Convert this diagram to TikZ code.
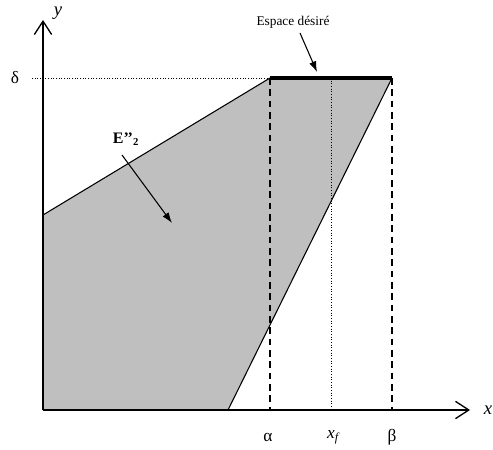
\documentclass[tikz,border=0pt]{standalone}
\usepackage{fontspec}
\setmainfont{Liberation Serif}
\usetikzlibrary{arrows.meta,positioning}

\tikzset{
  axis/.style={line width=1pt,-{Straight Barb[length=10pt,width=13pt,line width=1pt]}},
  pointer/.style={line width=.8pt,-{Latex[length=8pt,width=5.5pt]}},
  guide/.style={line width=.8pt,dash pattern=on 5pt off 3.5pt},
  dotguide/.style={line width=.7pt,dash pattern=on .8pt off 1.2pt}
}

\begin{document}
\begin{tikzpicture}[x=.75pt,y=.75pt]
      \useasboundingbox (-43,-40) rectangle (450,410);

      % region E''_2
      \fill[gray!50] (0,0) -- (0,195) -- (227,332) -- (349,332) -- (185,0) -- cycle;
      \draw[line width=.8pt] (0,195) -- (227,332);
      \draw[line width=.8pt] (349,332) -- (185,0);

      % bounds
      \coordinate (O) at (0,0);
      \coordinate (da) at (227,332);
      \coordinate (db) at (349,332);
      \coordinate (df) at (288,332);
      \draw[dotguide] (-11,332) -- (da);
      \draw[guide] (da) -- (227,0);
      \draw[guide] (db) -- (349,0);
      \draw[dotguide] (df) -- (288,0);
      \draw[line width=3pt] (da) -- (db);

      % axes
      \draw[axis] (O) -- (427,0);
      \draw[axis] (O) -- (0,390);
      \node (lx) at (445,0) {\fontsize{14}{14}\selectfont\itshape x};
      \node (ly) at (15,397) {\fontsize{14}{14}\selectfont\itshape y};
      \node (ldelta) at (-28,332) {\fontsize{13}{13}\selectfont δ};
      \node (lalpha) at (225,-27) {\fontsize{13}{13}\selectfont α};
      \node (lxf) at (290,-27) {\fontsize{13}{13}\selectfont\itshape x\textsubscript{f}};
      \node (lbeta) at (349,-27) {\fontsize{13}{13}\selectfont β};

      % labels
      \node (lspace) at (250,388) {\fontsize{10}{10}\selectfont Espace désiré};
      \coordinate (tspace) at (274,338);
      \draw[pointer] (257,377) -- (tspace);
      \node (lE) at (83,271) {\fontsize{12}{12}\selectfont\bfseries E’’\textsubscript{2}};
      \coordinate (tE) at (129,187);
      \draw[pointer] (79,255) -- (tE);
\end{tikzpicture}
\end{document}
